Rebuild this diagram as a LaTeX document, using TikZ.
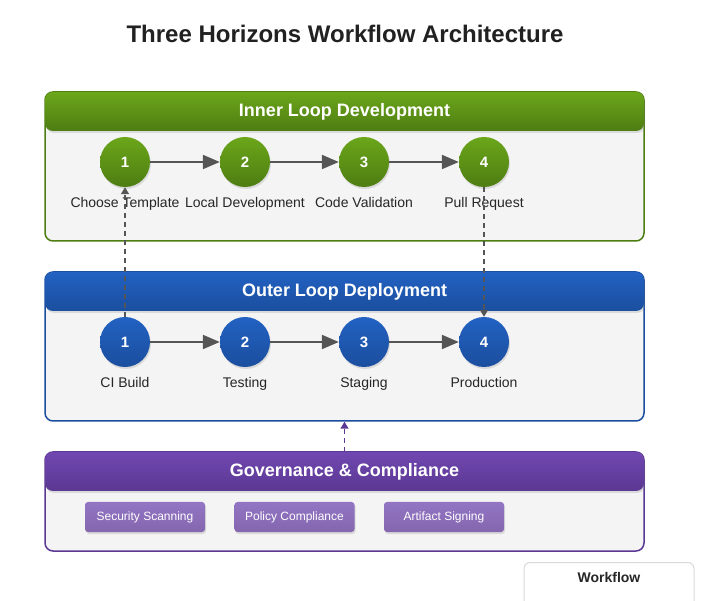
\documentclass[tikz,border=0pt]{standalone}
\usepackage{fontspec}
\setmainfont{Liberation Sans}
\usepackage{tikz}
\usetikzlibrary{positioning, shadows, arrows.meta}
\definecolor{innertop}{HTML}{6BA61A}
\definecolor{innerbot}{HTML}{4E7D12}
\definecolor{outertop}{HTML}{2262C2}
\definecolor{outerbot}{HTML}{1B4E9E}
\definecolor{govtop}{HTML}{7047B0}
\definecolor{govbot}{HTML}{5B3893}
\definecolor{chiptop}{HTML}{9275C4}
\definecolor{chipbot}{HTML}{8466AE}
\definecolor{panelfill}{HTML}{F4F4F4}
\definecolor{arrgray}{HTML}{555555}
\tikzset{softshadow/.style={drop shadow={opacity=0.22, shadow xshift=1pt, shadow yshift=-2pt}}}
\tikzset{panelbody/.style={rectangle, rounded corners=8, fill=panelfill, line width=1.5pt, minimum width=599, minimum height=149}}
\tikzset{hdr/.style={rectangle, rounded corners=8, softshadow, text=white, font=\fontsize{18}{21}\selectfont\bfseries, minimum width=599, minimum height=39}}
\tikzset{stepnode/.style={circle, minimum size=50, softshadow, text=white, font=\fontsize{15}{18}\selectfont\bfseries}}
\tikzset{steplabel/.style={font=\fontsize{14}{16}\selectfont, text=black!85, inner sep=1pt}}
\tikzset{chip/.style={rectangle, rounded corners=3, softshadow, top color=chiptop, bottom color=chipbot, text=white, font=\fontsize{12}{14}\selectfont, minimum width=120, minimum height=30}}
\tikzset{flow/.style={draw=arrgray, line width=2pt, -{Triangle[length=17pt, width=14pt]}}}
\tikzset{link/.style={draw=arrgray, line width=1.5pt, dash pattern=on 5pt off 4pt, -{Triangle[length=7pt, width=8pt]}}}
\begin{document}
\begin{tikzpicture}[x=1pt, y=-1pt]
    \useasboundingbox[fill=white] (0,0) rectangle (718,601);
    \node[font=\fontsize{24}{28}\selectfont\bfseries, text=black!87] (title) at (345,34) {Three Horizons Workflow Architecture};
    % inner loop
    \node[panelbody, draw=innerbot] (innerpanel) at (344.5,166.5) {};
    \node[hdr, top color=innertop, bottom color=innerbot] (innerhdr) at (344.5,111.5) {Inner Loop Development};
    \foreach \n/\x/\t in {1/125/Choose Template, 2/245/Local Development, 3/364/Code Validation, 4/484/Pull Request} {
        \node[stepnode, top color=innertop, bottom color=innerbot] (g\n) at (\x,162) {\n};
        \node[steplabel, below=9pt of g\n] (gl\n) {\t};
    }
    % outer loop
    \node[panelbody, draw=outerbot] (outerpanel) at (344.5,346.5) {};
    \node[hdr, top color=outertop, bottom color=outerbot] (outerhdr) at (344.5,291.5) {Outer Loop Deployment};
    \foreach \n/\x/\t in {1/125/CI Build, 2/245/Testing, 3/364/Staging, 4/484/Production} {
        \node[stepnode, top color=outertop, bottom color=outerbot] (b\n) at (\x,342) {\n};
        \node[steplabel, below=9pt of b\n] (bl\n) {\t};
    }
    \foreach \a/\b in {1/2, 2/3, 3/4} {
        \draw[flow] (g\a) -- (g\b);
        \draw[flow] (b\a) -- (b\b);
    }
    % governance
    \node[panelbody, draw=govbot, minimum height=99] (govpanel) at (344.5,501.5) {};
    \node[hdr, top color=govtop, bottom color=govbot] (govhdr) at (344.5,471.5) {Governance \& Compliance};
    \node[chip] (scan) at (145,517) {Security Scanning};
    \node[chip] (policy) at (294.5,517) {Policy Compliance};
    \node[chip] (sign) at (444,517) {Artifact Signing};
    % links between loops
    \draw[link] (b1) -- (g1);
    \draw[link] (g4) -- (b4);
    \draw[link, draw=govbot] (govhdr.north) -- (outerpanel.south);
    % legend
    \node[rectangle, rounded corners=6, draw=black!15, fill=white, line width=1pt, minimum width=170, minimum height=60, anchor=north] (legend) at (609,562) {};
    \node[font=\fontsize{14}{16}\selectfont\bfseries, text=black!85] (legendtitle) at (609,577) {Workflow};
\end{tikzpicture}
\end{document}
